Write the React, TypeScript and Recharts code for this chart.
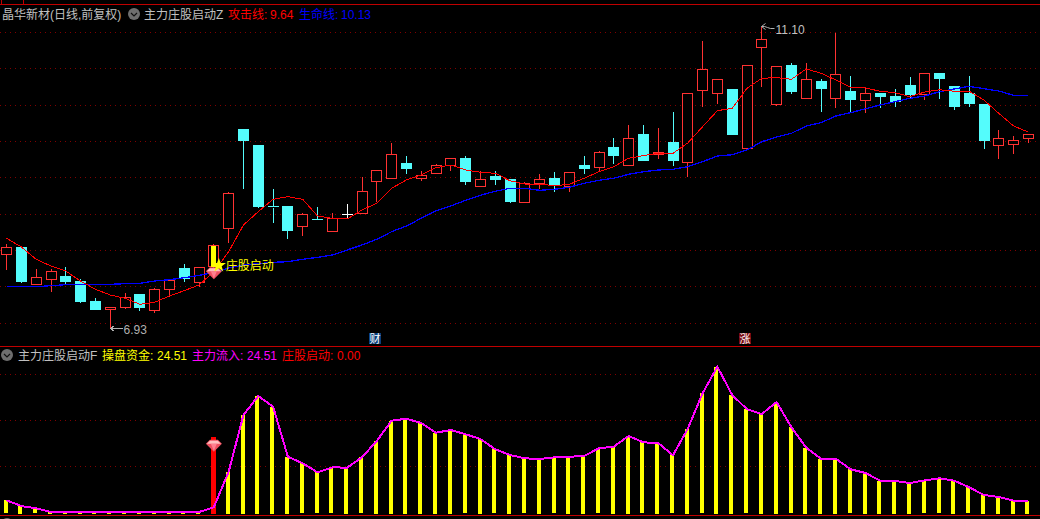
import React from "react";
import { ComposedChart, Bar, Line, XAxis, YAxis, CartesianGrid, ReferenceDot } from "recharts";

const opens = [7.94,8.04,7.53,7.59,7.63,7.57,7.29,7.17,7.20,7.38,7.16,7.45,7.74,7.55,7.78,8.30,9.68,9.46,8.60,8.60,8.33,8.43,8.26,8.49,8.51,8.95,8.99,9.21,8.99,9.06,9.18,9.27,8.88,9.02,8.98,8.66,8.92,9.00,8.88,9.18,9.15,9.42,9.17,9.60,9.33,9.49,9.22,10.22,10.17,10.23,9.41,10.81,10.03,10.56,10.10,10.34,10.10,10.21,10.08,10.17,10.13,10.29,10.16,10.45,10.27,10.17,10.02,9.45,9.47,9.55];
const closes = [8.04,7.57,7.62,7.71,7.57,7.29,7.18,7.21,7.34,7.20,7.46,7.58,7.61,7.76,8.07,8.79,9.53,8.60,8.59,8.27,8.50,8.42,8.44,8.49,8.82,9.10,9.33,9.13,9.04,9.17,9.28,8.95,8.98,8.98,8.68,8.93,8.98,8.90,9.08,9.13,9.35,9.31,9.55,9.25,9.36,9.24,10.17,10.51,10.37,9.60,10.57,10.92,10.55,10.20,10.37,10.25,10.44,10.09,10.18,10.13,10.07,10.16,10.46,10.38,9.99,10.04,9.53,9.55,9.53,9.60];
const highs = [8.09,8.04,7.74,7.74,7.77,7.61,7.34,7.21,7.41,7.38,7.48,7.58,7.81,7.76,8.09,8.82,9.68,9.46,8.85,8.60,8.53,8.60,8.52,8.65,9.02,9.10,9.50,9.31,9.11,9.20,9.29,9.31,9.11,9.10,8.98,8.95,9.07,9.09,9.08,9.31,9.39,9.56,9.75,9.74,9.70,9.93,10.17,10.91,10.37,10.23,10.57,11.10,10.55,10.61,10.60,10.38,11.02,10.42,10.28,10.18,10.25,10.41,10.46,10.45,10.29,10.42,10.02,9.67,9.59,9.60];
const lows = [7.73,7.55,7.53,7.42,7.53,7.27,7.17,6.93,7.19,7.16,7.13,7.35,7.57,7.49,7.73,8.10,8.85,8.59,8.38,8.16,8.20,8.42,8.26,8.45,8.51,8.67,8.99,9.06,8.97,9.06,9.11,8.91,8.88,8.91,8.66,8.66,8.86,8.82,8.82,9.07,9.11,9.20,9.17,9.24,9.27,9.17,9.02,10.00,10.04,9.60,9.41,10.28,10.01,10.17,10.10,9.93,9.98,9.93,9.91,9.98,10.00,10.10,10.09,10.11,9.96,10.00,9.41,9.27,9.34,9.49];
const attackLine = [8.165,8.045,7.874,7.781,7.711,7.572,7.457,7.378,7.332,7.249,7.276,7.364,7.438,7.517,7.701,7.979,8.35,8.535,8.707,8.743,8.707,8.475,8.443,8.433,8.558,8.651,8.86,8.975,9.044,9.146,9.183,9.114,9.082,9.068,8.965,8.919,8.919,8.896,8.915,8.999,9.09,9.16,9.276,9.313,9.346,9.346,9.489,9.715,9.938,9.971,10.249,10.388,10.396,10.374,10.517,10.457,10.364,10.263,10.253,10.207,10.188,10.132,10.197,10.229,10.207,10.207,10.086,9.901,9.725,9.64];
const lifeLine = [7.493,7.493,7.493,7.507,7.521,7.526,7.526,7.526,7.535,7.54,7.572,7.59,7.618,7.651,7.688,7.753,7.794,7.813,7.832,7.84,7.874,7.901,7.933,8.003,8.072,8.151,8.257,8.336,8.443,8.549,8.614,8.693,8.763,8.818,8.86,8.86,8.832,8.846,8.874,8.929,8.971,8.999,9.054,9.09,9.114,9.124,9.16,9.229,9.308,9.326,9.392,9.507,9.572,9.624,9.725,9.771,9.864,9.91,9.965,10.017,10.063,10.11,10.142,10.201,10.239,10.276,10.243,10.211,10.151,10.15];
const fundFlow = [25.4,13,8,0,0,0,0,0,0,0,0,0,0,0,10.2,87.6,210.9,252.2,228.9,120.2,105.9,86.3,97.2,96.3,118.9,154.4,198.5,202.8,193.5,172.4,178.3,168.9,158.7,136.3,123.9,116.7,115.2,118.9,120.2,121.7,138.5,142,165.2,151.5,150,123.3,181,258,315.9,254.4,223.3,213,239.1,184.1,139.8,115.9,115.9,92.8,84.8,68,67.4,63,68.9,73.3,68,53.7,37,32.6,24.6,24.51];

const startIndex = 14;
const startStickTop = 163.7;
const stickBase = -3.5;
const lowLabel = "6.93";
const highLabel = "11.10";
const priceDomain = [6.6694, 11.475];
const priceGrid = [11.024, 10.518, 10.014, 9.508, 9.003, 8.499, 7.993, 7.489, 6.983];
const flowDomain = [-15.2, 358.7];
const flowGrid = [100, 200, 300];

const rows = opens.map((open, i) => ({
  i, open, close: closes[i], high: highs[i], low: lows[i],
  attack: attackLine[i], life: lifeLine[i], flow: fundFlow[i],
  signal: i === startIndex,
}));

const UP = "#ff3232", DOWN = "#54fcfc", GRID = "#800000", RULE = "#c00000";
const FONT = "'Liberation Sans','Noto Sans CJK SC',sans-serif";
const CJK = "'Noto Sans CJK SC',sans-serif";

const snap = (v: number) => Math.round(v - 0.5) + 0.5;

function Candle(p: any) {
  const d = p.payload;
  const cx = snap(p.x + p.width / 2);
  const k = p.height / (d.high - d.low);
  const yOf = (v: number) => p.y + (d.high - v) * k;
  const top = snap(yOf(Math.max(d.open, d.close)));
  const bottom = snap(yOf(Math.min(d.open, d.close)));
  const hi = snap(p.y), lo = snap(p.y + p.height);
  const up = d.close > d.open, flat = d.close === d.open;
  const color = flat ? "#ffffff" : up ? UP : DOWN;
  const h = Math.max(bottom - top, 0);
  return (
    <g shapeRendering="crispEdges">
      <line x1={cx} x2={cx} y1={hi} y2={top} stroke={color} />
      <line x1={cx} x2={cx} y1={bottom} y2={lo} stroke={color} />
      {up ? (
        <rect x={cx - 5} y={top} width={10} height={h} fill="#000" stroke={color} />
      ) : h <= 1 ? (
        <line x1={cx - 5.5} x2={cx + 5.5} y1={top} y2={top} stroke={color} />
      ) : (
        <rect x={cx - 5.5} y={top - 0.5} width={11} height={h + 1} fill={color} />
      )}
      {d.signal ? <rect x={cx - 2.5} y={top} width={5} height={h} fill="#ffff00" /> : null}
    </g>
  );
}

function Stick(p: any) {
  const d = p.payload;
  const cx = snap(p.x + p.width / 2);
  const w = d.signal ? 5 : 4;
  return (
    <rect x={cx - 2.5} y={Math.round(p.y)} width={w} height={Math.round(p.height)}
      fill={d.signal ? "#ff0000" : "#ffff00"} shapeRendering="crispEdges" />
  );
}

function Gem({ cx, cy }: any) {
  return (
    <g>
      <path d={`M${cx - 8} ${cy - 2}L${cx - 4} ${cy - 6}H${cx + 4}L${cx + 8} ${cy - 2}L${cx} ${cy + 6}Z`} fill="#f05060" />
      <path d={`M${cx - 7} ${cy - 2}L${cx - 4} ${cy - 5}H${cx + 4}L${cx + 7} ${cy - 2}Z`} fill="#ffc0c0" />
      <path d={`M${cx - 3} ${cy - 2}H${cx + 3}L${cx} ${cy + 5}Z`} fill="#ff8090" />
    </g>
  );
}

const GemDot = (p: any) => <Gem cx={p.cx} cy={p.cy} />;

function StarDot(p: any) {
  const cx = p.cx + 5, cy = p.cy;
  const pts: string[] = [];
  for (let n = 0; n < 10; n++) {
    const r = n % 2 ? 3 : 7.5;
    const a = -Math.PI / 2 + (n * Math.PI) / 5;
    pts.push(`${cx + r * Math.cos(a)},${cy + r * Math.sin(a)}`);
  }
  return (
    <g>
      <polygon points={pts.join(" ")} fill="#ffff00" />
      <text x={p.cx + 12} y={cy + 4.5} fontSize={12} fill="#ffff00" fontFamily={CJK}>庄股启动</text>
    </g>
  );
}

function LowMark(p: any) {
  const y = snap(p.cy + 1);
  const x = snap(p.cx);
  return (
    <g>
      <path d={`M${x} ${y}H${x + 12}M${x} ${y}l4 -3M${x} ${y}l4 3`} stroke="#b0b0b0" fill="none" shapeRendering="crispEdges" />
      <text x={x + 13} y={y + 5} fontSize={12} fill="#b0b0b0" fontFamily={FONT}>{lowLabel}</text>
    </g>
  );
}

function HighMark(p: any) {
  const x = snap(p.cx);
  const y = snap(p.cy);
  return (
    <g>
      <path d={`M${x} ${y}l4 -3M${x} ${y}l4 3M${x} ${y}h3l3 1l3 1h4`} stroke="#b0b0b0" fill="none" />
      <text x={x + 14} y={y + 7} fontSize={12} fill="#c0c0c0" fontFamily={FONT}>{highLabel}</text>
    </g>
  );
}

const Chevron = ({ cx, cy }: any) => (
  <g>
    <circle cx={cx} cy={cy} r={6} fill="#6e6e6e" />
    <path d={`M${cx - 3} ${cy - 1}L${cx} ${cy + 2}L${cx + 3} ${cy - 1}`} stroke="#111" strokeWidth={1.2} fill="none" />
  </g>
);

const T = ({ x, y, c, children }: any) => (
  <text x={x} y={y} fontSize={12} fill={c} fontFamily={FONT}>{children}</text>
);

function Overlay() {
  return (
    <svg width={1040} height={519} style={{ position: "absolute", left: 0, top: 0 }}>
      <g shapeRendering="crispEdges" stroke={RULE}>
        <line x1={0} x2={1040} y1={4.5} y2={4.5} />
        <line x1={1.5} x2={1.5} y1={0} y2={4} />
        <line x1={23.5} x2={23.5} y1={0} y2={4} />
        <line x1={0} x2={1040} y1={346.5} y2={346.5} />
        <line x1={0} x2={1040} y1={515.5} y2={515.5} />
      </g>
      <T x={2} y={18.5} c="#c0c0c0">晶华新材(日线,前复权)</T>
      <Chevron cx={134} cy={14} />
      <T x={144} y={18.5} c="#c0c0c0">主力庄股启动Z</T>
      <T x={228} y={18.5} c="#ff0000">攻击线:</T>
      <T x={270} y={18.5} c="#ff0000">9.64</T>
      <T x={299} y={18.5} c="#0000ff">生命线:</T>
      <T x={341} y={18.5} c="#0000ff">10.13</T>

      <Chevron cx={7} cy={355} />
      <T x={18} y={359.5} c="#c0c0c0">主力庄股启动F</T>
      <T x={102} y={359.5} c="#ffff00">操盘资金:</T>
      <T x={157} y={359.5} c="#ffff00">24.51</T>
      <T x={192} y={359.5} c="#ff00ff">主力流入:</T>
      <T x={247} y={359.5} c="#ff00ff">24.51</T>
      <T x={282} y={359.5} c="#ff0000">庄股启动:</T>
      <T x={337} y={359.5} c="#ff0000">0.00</T>

      <rect x={369} y={333} width={12} height={11} fill="#0b3f7a" shapeRendering="crispEdges" />
      <text x={375} y={343} textAnchor="middle" fontSize={11} fill="#fff" fontFamily={CJK}>财</text>
      <rect x={739} y={333} width={12} height={11} fill="#7a0a10" shapeRendering="crispEdges" />
      <text x={745} y={343} textAnchor="middle" fontSize={11} fill="#fff" fontFamily={CJK}>涨</text>
      <circle cx={7} cy={524} r={6} fill="#6e6e6e" />
    </svg>
  );
}

const pad = { left: -0.9, right: 4.2 };

export default function App() {
  return (
    <div style={{ position: "absolute", left: 0, top: 0, width: 1040, height: 519, background: "#000", overflow: "hidden" }}>
      <div style={{ position: "absolute", left: 0, top: 0 }}>
        <ComposedChart width={1040} height={346} data={rows} margin={{ top: 0, right: 0, bottom: 0, left: 0 }}>
          <CartesianGrid horizontal vertical={false} horizontalValues={priceGrid} stroke={GRID} strokeDasharray="1 4" shapeRendering="crispEdges" />
          <XAxis dataKey="i" type="category" hide padding={pad} interval={0} />
          <YAxis type="number" hide domain={priceDomain} ticks={priceGrid} allowDataOverflow />
          <Bar dataKey={(d: any) => [d.low, d.high]} barSize={11} shape={Candle} isAnimationActive={false} />
          <Line dataKey="life" stroke="#0000ff" strokeWidth={1.3} dot={false} isAnimationActive={false} shapeRendering="crispEdges" />
          <Line dataKey="attack" stroke="#ff0000" strokeWidth={1} dot={false} isAnimationActive={false} shapeRendering="crispEdges" />
          <ReferenceDot x={startIndex} y={7.68} shape={GemDot} />
          <ReferenceDot x={startIndex} y={7.79} shape={StarDot} />
          <ReferenceDot x={7} y={6.93} shape={LowMark} />
          <ReferenceDot x={51} y={11.10} shape={HighMark} />
        </ComposedChart>
      </div>
      <div style={{ position: "absolute", left: 0, top: 347 }}>
        <ComposedChart width={1040} height={172} data={rows} margin={{ top: 0, right: 0, bottom: 0, left: 0 }}>
          <CartesianGrid horizontal vertical={false} horizontalValues={flowGrid} stroke={GRID} strokeDasharray="1 4" shapeRendering="crispEdges" />
          <XAxis dataKey="i" type="category" hide padding={pad} interval={0} />
          <YAxis type="number" hide domain={flowDomain} ticks={flowGrid} allowDataOverflow />
          <Bar dataKey={(d: any) => [stickBase, d.signal ? startStickTop : d.flow]} barSize={4} shape={Stick} isAnimationActive={false} />
          <Line dataKey="flow" stroke="#ff00ff" strokeWidth={2} dot={false} isAnimationActive={false} shapeRendering="crispEdges" />
          <ReferenceDot x={startIndex} y={144} shape={GemDot} />
        </ComposedChart>
      </div>
      <Overlay />
    </div>
  );
}
